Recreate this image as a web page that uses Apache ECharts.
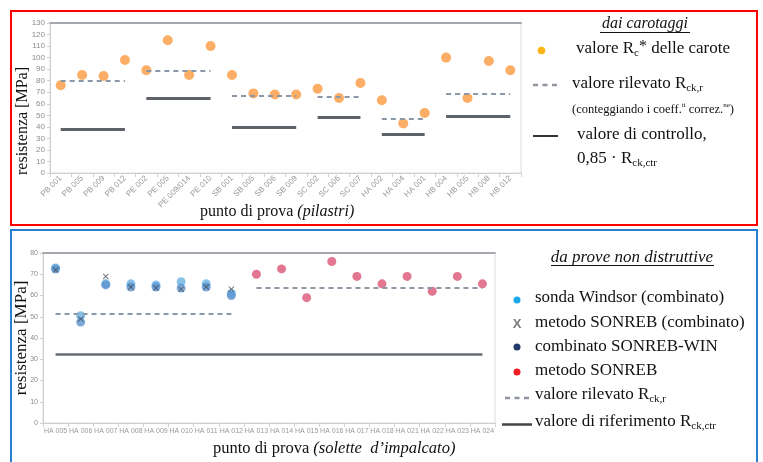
<!DOCTYPE html>
<html>
<head>
<meta charset="utf-8">
<script src="https://cdn.jsdelivr.net/npm/echarts@6/dist/echarts.min.js"></script>
<style>
html,body{margin:0;padding:0;background:#fff;}
#c{width:763px;height:462px;}
</style>
</head>
<body>
<div id="c"></div>
<script>
// ---------- top chart (dai carotaggi) ----------
const topCats = ['PB 001','PB 005','PB 009','PB 012','PE 002','PE 005','PE 009/014','PE 010','SB 001','SB 005','SB 006','SB 009','SC 002','SC 006','SC 007','HA 002','HA 004','HA 001','HB 004','HB 005','HB 008','HB 012'];
const topCarote = [76,85,84,98,89,115,85,110,85,69,68,68,73,65,78,63,43,52,100,65,97,89];
const topGroupFirst = ['PB 001','PE 002','SB 001','SC 002','HA 002','HB 004'];
const topGroupLast = ['PB 012','PE 010','SB 009','SC 007','HA 001','HB 012'];
const topRilevato = [80,89,67,66,47,69];
const topControllo = [38,64.5,40,48.5,34,49.5];
const topYTicks = {min:0, max:130, interval:10};

// ---------- bottom chart (prove non distruttive) ----------
const botCats = ['HA 005','HA 006','HA 007','HA 008','HA 009','HA 010','HA 011','HA 012','HA 013','HA 014','HA 015','HA 016','HA 017','HA 018','HA 021','HA 022','HA 023','HA 024'];
const windsor    = [73,50.5,65.5,65.5,65,66.5,65.5,61,null,null,null,null,null,null,null,null,null,null];
const sonrebWin  = [72.5,47.5,65,64,64,63.5,64,60,null,null,null,null,null,null,null,null,null,null];
const sonrebComb = [72,49,69,64,63.5,63,64,63,null,null,null,null,null,null,null,null,null,null];
const sonreb     = [null,null,null,null,null,null,null,null,70,72.5,59,76,69,65.5,69,62,69,65.5];
const botGroupFirst = ['HA 005','HA 013'];
const botGroupLast = ['HA 012','HA 024'];
const botRilevato = [51.5,63.5];
const botRifFirst = 'HA 005';
const botRifLast = 'HA 024';
const botRiferimento = 32.5;
const botYTicks = {min:0, max:80, interval:10};

const SERIF = '"Liberation Serif","DejaVu Serif",serif';
const SANS = '"Liberation Sans",Arial,sans-serif';

function groupLines(first, last, vals){
  return vals.map((v,i)=>[{coord:[first[i], v]},{coord:[last[i], v]}]);
}

function xAx(grid, cats, rotate, fs){
  return {gridIndex:grid, type:'category', data:cats, boundaryGap:true,
    axisLine:{lineStyle:{color:'#cfcfcf', width:1}},
    axisTick:{show:true, length:4, lineStyle:{color:'#d2d2d2'}},
    axisLabel:{rotate:rotate, fontSize:fs, color:'#9a9a9a', margin:rotate?4:5, interval:0, fontFamily:SANS},
    splitLine:{show:false}};
}
function xTop(grid, cats){
  return {gridIndex:grid, type:'category', data:cats, position:'top',
    axisLine:{lineStyle:{color:'#a4a9af', width:2}}, axisTick:{show:false}, axisLabel:{show:false}, splitLine:{show:false}};
}
function yAx(grid, t, fs){
  return {gridIndex:grid, type:'value', min:t.min, max:t.max, interval:t.interval,
    axisLine:{show:true, lineStyle:{color:'#cfcfcf'}},
    axisTick:{show:true, length:3, lineStyle:{color:'#cfcfcf'}},
    axisLabel:{fontSize:fs, color:'#8c8c8c', margin:5, fontFamily:SANS},
    splitLine:{show:false}};
}

const base = {fontSize:17, fontFamily:SERIF, fill:'#111', lineHeight:20};
const sub = {fontSize:11, fontFamily:SERIF, fill:'#111', lineHeight:11, verticalAlign:'bottom'};
const sup = {fontSize:16, fontFamily:SERIF, fill:'#111', lineHeight:12, verticalAlign:'top'};
const smallBase = {fontSize:12.5, fontFamily:SERIF, fill:'#111', lineHeight:16};
const tinySup = {fontSize:7, fontFamily:SERIF, fill:'#111', lineHeight:7, verticalAlign:'top'};

function rt(x, y, text, rich, extra){
  return Object.assign({type:'text', x:x, y:y, silent:true,
    style:{text:text, rich:rich, textAlign:'left', textVerticalAlign:'middle', fill:'#111'}}, extra||{});
}
function plain(x, y, text, font, align, rotation, color){
  return {type:'text', x:x, y:y, rotation:rotation||0, silent:true,
    style:{text:text, font:font, fill:color||'#111', textAlign:align||'left', textVerticalAlign:'middle'}};
}
function hline(x1, x2, y, color, w, dash){
  return {type:'line', silent:true, shape:{x1:x1,y1:y,x2:x2,y2:y},
    style:{stroke:color, lineWidth:w, lineDash:dash||null}};
}
function dot(x, y, r, color){
  return {type:'circle', silent:true, shape:{cx:x, cy:y, r:r}, style:{fill:color}};
}

const graphics = [
  // frames
  {type:'rect', silent:true, shape:{x:11, y:11, width:746, height:214}, style:{fill:null, stroke:'#ff0000', lineWidth:2}},
  {type:'rect', silent:true, shape:{x:11, y:230, width:746, height:240}, style:{fill:null, stroke:'#2a7fd2', lineWidth:2}},
  // axis titles top
  plain(23, 121, 'resistenza [MPa]', '16px '+SERIF, 'center', Math.PI/2),
  rt(200, 212, '{a|punto di prova }{i|(pilastri)}', {
      a:{fontSize:16, fontFamily:SERIF, fill:'#111'},
      i:{fontSize:16, fontFamily:SERIF, fontStyle:'italic', fill:'#111'}}),
  // axis titles bottom
  plain(22, 338, 'resistenza [MPa]', '17px '+SERIF, 'center', Math.PI/2),
  rt(213, 449, '{a|punto di prova }{i|(solette  d\u2019impalcato)}', {
      a:{fontSize:16.5, fontFamily:SERIF, fill:'#111'},
      i:{fontSize:16.5, fontFamily:SERIF, fontStyle:'italic', fill:'#111'}}),

  // top legend
  plain(645, 24, 'dai carotaggi', 'italic 16px '+SERIF, 'center'),
  hline(600, 690, 32.5, '#111', 1),
  dot(541.5, 50.5, 3.8, '#fdb516'),
  rt(576, 49, '{a|valore R}{s|c}{p|*}{a| delle carote}', {a:base, s:sub, p:sup}),
  hline(533, 558, 85, '#8e959e', 2.5, [5,4.5]),
  rt(572, 84, '{a|valore rilevato R}{s|ck,r}', {a:base, s:sub}),
  rt(572, 110, '{a|(conteggiando i coeff.}{t|ti}{a| correz.}{t|ne}{a|)}', {a:smallBase, t:tinySup}),
  hline(533, 558, 136, '#333', 2),
  rt(577, 135, '{a|valore di controllo,}', {a:base}),
  rt(577, 159, '{a|0,85 \u00b7 R}{s|ck,ctr}', {a:base, s:sub}),

  // bottom legend
  plain(632, 258, 'da prove non distruttive', 'italic 17px '+SERIF, 'center'),
  hline(551, 714, 265.5, '#111', 1),
  dot(517, 300, 3.5, '#1aaaec'),
  rt(535, 298, '{a|sonda Windsor (combinato)}', {a:base}),
  plain(517, 324, 'X', 'bold 13px '+SANS, 'center', 0, '#7a7a7a'),
  rt(535, 323, '{a|metodo SONREB (combinato)}', {a:base}),
  dot(517, 347, 3.5, '#1f3b6b'),
  rt(535, 347, '{a|combinato SONREB-WIN}', {a:base}),
  dot(517, 372, 3.5, '#ef1c24'),
  rt(535, 371, '{a|metodo SONREB}', {a:base}),
  hline(505, 532, 398, '#8e959e', 2.5, [5,4.5]),
  rt(535, 395, '{a|valore rilevato R}{s|ck,r}', {a:base, s:sub}),
  hline(502, 532, 424.5, '#444', 2.5),
  rt(535, 422, '{a|valore di riferimento R}{s|ck,ctr}', {a:base, s:sub})
];

const xPath = 'path://M0,1.2 L1.2,0 L5,3.8 L8.8,0 L10,1.2 L6.2,5 L10,8.8 L8.8,10 L5,6.2 L1.2,10 L0,8.8 L3.8,5 Z';

const option = {
  animation:false,
  backgroundColor:'#ffffff',
  grid:[
    {left:50, top:23, width:471, height:150, show:true, borderColor:'#dcdcdc', borderWidth:1, containLabel:false},
    {left:43, top:253, width:452, height:170, show:true, borderColor:'#dcdcdc', borderWidth:1, containLabel:false}
  ],
  xAxis:[ xAx(0, topCats, 45, 8), xTop(0, topCats), xAx(1, botCats, 0, 7), xTop(1, botCats) ],
  yAxis:[ yAx(0, topYTicks, 8), yAx(1, botYTicks, 7) ],
  series:[
    {type:'line', xAxisIndex:0, yAxisIndex:0, data:[], silent:true,
     markLine:{silent:true, symbol:'none', label:{show:false}, animation:false,
       lineStyle:{type:[5,4], color:'#8a97a6', width:2}, emphasis:{disabled:true},
       data:groupLines(topGroupFirst, topGroupLast, topRilevato)}},
    {type:'line', xAxisIndex:0, yAxisIndex:0, data:[], silent:true,
     markLine:{silent:true, symbol:'none', label:{show:false}, animation:false,
       lineStyle:{type:'solid', color:'#5d6369', width:3}, emphasis:{disabled:true},
       data:groupLines(topGroupFirst, topGroupLast, topControllo)}},
    {type:'scatter', name:'carote', xAxisIndex:0, yAxisIndex:0, data:topCarote, symbolSize:10,
     itemStyle:{color:'#fcae66', opacity:1}, z:4},

    {type:'line', xAxisIndex:2, yAxisIndex:1, data:[], silent:true,
     markLine:{silent:true, symbol:'none', label:{show:false}, animation:false,
       lineStyle:{type:[5,4], color:'#8a97a6', width:2}, emphasis:{disabled:true},
       data:groupLines(botGroupFirst, botGroupLast, botRilevato)}},
    {type:'line', xAxisIndex:2, yAxisIndex:1, data:[], silent:true,
     markLine:{silent:true, symbol:'none', label:{show:false}, animation:false,
       lineStyle:{type:'solid', color:'#676d73', width:2.5}, emphasis:{disabled:true},
       data:[[{coord:[botRifFirst, botRiferimento]},{coord:[botRifLast, botRiferimento]}]]}},
    {type:'scatter', name:'Windsor', xAxisIndex:2, yAxisIndex:1, data:windsor, symbolSize:9,
     itemStyle:{color:'#6cb3e3'}, z:4},
    {type:'scatter', name:'SONREB-WIN', xAxisIndex:2, yAxisIndex:1, data:sonrebWin, symbolSize:9,
     itemStyle:{color:'#5b93cf'}, z:5},
    {type:'scatter', name:'SONREB comb', xAxisIndex:2, yAxisIndex:1, data:sonrebComb, symbol:xPath, symbolSize:6,
     itemStyle:{color:'#4a4f57'}, z:6},
    {type:'scatter', name:'SONREB', xAxisIndex:2, yAxisIndex:1, data:sonreb, symbolSize:9,
     itemStyle:{color:'#dc5474'}, z:4}
  ],
  graphic:graphics
};

const chart = echarts.init(document.getElementById('c'), null, {renderer:'canvas'});
chart.setOption(option);
</script>
</body>
</html>
